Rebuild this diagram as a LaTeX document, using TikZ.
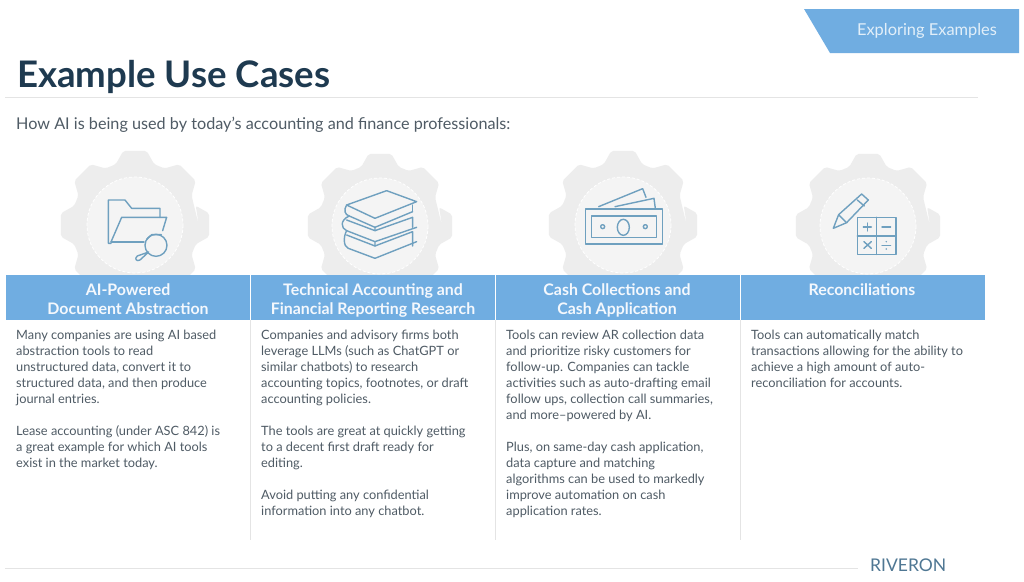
\documentclass[tikz,border=0pt]{standalone}
\usepackage{fontspec}
\setmainfont{Lato}
\definecolor{barblue}{HTML}{70ADE1}
\definecolor{navy}{HTML}{1E3A50}
\definecolor{bodyc}{HTML}{4F5B65}
\definecolor{gearc}{HTML}{EDEDED}
\definecolor{gearin}{HTML}{F4F4F4}
\definecolor{iconc}{HTML}{6FA0BF}
\definecolor{rulec}{HTML}{E4E4E4}
\tikzset{
 bodytext/.style={anchor=north west,inner sep=0pt,align=left,text=bodyc,font=\fontsize{12.8}{16.05}\selectfont},
 headtext/.style={anchor=north,inner sep=0pt,align=center,text=white!92!barblue,font=\fontsize{15.9}{19}\selectfont\bfseries},
 icon/.style={draw=iconc,line width=1.4pt,line join=round,line cap=round},
 zoomed/.style={x=0.3333pt,y=-0.3333pt},
 sep/.style={draw=rulec,line width=0.8pt}
}
\newcommand{\geargl}[4]{% name, x, y, outer radius
 \begin{scope}[shift={(#2,#3)}]
 \fill[gearc,rounded corners=2pt] (0:#4*0.85)
 \foreach \a in {0,45,...,315}{
   -- (\a-22.5+5:#4*0.85) -- (\a-9:#4) -- (\a+9:#4) -- (\a+22.5-5:#4*0.85)
 } -- cycle;
 \fill[gearin] (0,0) circle (48);
 \draw[white,line width=0.8pt,dash pattern=on 3pt off 2pt] (0,0) circle (48);
 \end{scope}
}
\begin{document}
\begin{tikzpicture}[x=1pt,y=-1pt]
\useasboundingbox (0,0) rectangle (1024,581);
\fill[white] (0,0) rectangle (1024,581);
% tab
\fill[barblue] (804,9) -- (1019,9) -- (1019,53) -- (830,53) -- cycle;
\node[text=white!80!barblue,inner sep=0pt,font=\fontsize{16.4}{19}\selectfont] (tab) at (927,30.5) {Exploring Examples};
% title
\node[anchor=west,inner sep=0pt,text=navy,font=\fontsize{36.6}{40}\selectfont\bfseries] (title) at (17,77) {Example Use Cases};
\coordinate (ruleL) at (5,97); \coordinate (ruleR) at (978,97);
\draw[sep] (ruleL) -- (ruleR);
\node[anchor=west,inner sep=0pt,text=bodyc,font=\fontsize{16.2}{18}\selectfont] (sub) at (16,124.5) {How AI is being used by today’s accounting and finance professionals:};
% gears
\geargl{g1}{135}{225}{75}
\geargl{g2}{380}{226}{73}
\geargl{g3}{623}{225}{75}
\geargl{g4}{868}{226}{73}
% bar
\fill[white] (0,275) rectangle (1024,320);
\fill[barblue] (6,275) rectangle (985,320);
\coordinate (s1a) at (250,275); \coordinate (s1b) at (250,320);
\coordinate (s2a) at (495,275); \coordinate (s2b) at (495,320);
\coordinate (s3a) at (740,275); \coordinate (s3b) at (740,320);
\draw[white,line width=0.8pt] (s1a)--(s1b) (s2a)--(s2b) (s3a)--(s3b);
\node[headtext] (h1) at (128,282) {\strut AI-Powered\\\strut Document Abstraction};
\node[headtext] (h2) at (373,282) {\strut Technical Accounting and\\\strut Financial Reporting Research};
\node[headtext] (h3) at (617,282) {\strut Cash Collections and\\\strut Cash Application};
\node[headtext] (h4) at (862,282) {\strut Reconciliations};
% column separators
\coordinate (c1a) at (250,320); \coordinate (c1b) at (250,540);
\coordinate (c2a) at (495,320); \coordinate (c2b) at (495,540);
\coordinate (c3a) at (740,320); \coordinate (c3b) at (740,540);
\draw[sep] (c1a)--(c1b) (c2a)--(c2b) (c3a)--(c3b);
% body
\node[bodytext] (b1) at (16,329.5) {Many companies are using AI based\\abstraction tools to read\\unstructured data, convert it to\\structured data, and then produce\\journal entries.\\[16.05pt]Lease accounting (under ASC 842) is\\a great example for which AI tools\\exist in the market today.};
\node[bodytext] (b2) at (261,329.5) {Companies and advisory firms both\\leverage LLMs (such as ChatGPT or\\similar chatbots) to research\\accounting topics, footnotes, or draft\\accounting policies.\\[16.05pt]The tools are great at quickly getting\\to a decent first draft ready for\\editing.\\[16.05pt]Avoid putting any confidential\\information into any chatbot.};
\node[bodytext] (b3) at (506,329.5) {Tools can review AR collection data\\and prioritize risky customers for\\follow-up. Companies can tackle\\activities such as auto-drafting email\\follow ups, collection call summaries,\\and more--powered by AI.\\[16.05pt]Plus, on same-day cash application,\\data capture and matching\\algorithms can be used to markedly\\improve automation on cash\\application rates.};
\node[bodytext] (b4) at (751,329.5) {Tools can automatically match\\transactions allowing for the ability to\\achieve a high amount of auto-\\reconciliation for accounts.};
% footer
\coordinate (fL) at (5,568); \coordinate (fR) at (858,568);
\draw[sep] (fL) -- (fR);
\node[anchor=west,inner sep=0pt,text=iconc!60!navy,font=\fontsize{17.5}{20}\selectfont] (logo) at (870,565.5) {RIVERON};
% folder icon
\begin{scope}[shift={(0,140)},zoomed]
\draw[icon] (333,310) -- (325,310) -- (325,180) -- (375,180) -- (395,205) -- (480,205) -- (480,232);
\draw[icon] (333,306) -- (365,232) -- (500,232) -- (488,272);
\draw[icon] (333,306) -- (432,306);
\draw[icon] (468,316) circle (33);
\draw[icon] (440,298) -- (455,284) -- (484,284);
\draw[icon] (446,336) -- (412,348) .. controls (402,356) and (410,366) .. (420,360) -- (446,336);
% books
\draw[icon] (1040,195) -- (1160,152) -- (1250,185) -- (1125,235) -- cycle;
\draw[icon] (1040,195) .. controls (1030,210) and (1035,225) .. (1048,228) -- (1125,262) -- (1238,215);
\draw[icon] (1238,195) -- (1238,215);
\draw[icon] (1048,228) .. controls (1020,240) and (1022,265) .. (1040,272) -- (1125,305) -- (1250,262);
\draw[icon] (1125,262) -- (1125,272) -- (1040,240);
\draw[icon] (1125,272) -- (1238,232) -- (1238,262);
\draw[icon] (1040,272) .. controls (1030,290) and (1030,320) .. (1045,325) -- (1125,355) -- (1250,305);
\draw[icon] (1125,305) -- (1125,318) -- (1040,285);
\draw[icon] (1125,318) -- (1238,275) -- (1238,318);
\end{scope}
\begin{scope}[shift={(500,140)},zoomed]
% money
\draw[icon] (257,207) rectangle (488,312);
\draw[icon] (275,228) -- (470,228) -- (470,292) -- (275,292) -- cycle;
\draw[icon] (370,262) ellipse (18 and 24);
\draw[icon] (308,260) circle (6);
\draw[icon] (436,260) circle (6);
\draw[icon] (296,200) -- (428,146) -- (438,172);
\draw[icon] (345,200) -- (462,175) -- (466,205);
% pencil and table
\draw[icon] (1000,265) -- (1016,224) -- (1085,162) -- (1105,180) -- (1040,248) -- cycle;
\draw[icon] (1016,224) -- (1040,248);
\draw[icon] (1072,180) -- (1093,198);
\draw[icon] (1072,232) rectangle (1188,343);
\draw[icon] (1130,232) -- (1130,343);
\draw[icon] (1072,288) -- (1188,288);
\draw[icon] (1090,261) -- (1114,261) (1102,249) -- (1102,273);
\draw[icon] (1146,261) -- (1172,261);
\draw[icon] (1092,305) -- (1114,325) (1114,305) -- (1092,325);
\draw[icon] (1146,316) -- (1172,316);
\fill[iconc] (1159,305) circle (2.5) (1159,327) circle (2.5);
\end{scope}
\end{tikzpicture}
\end{document}
